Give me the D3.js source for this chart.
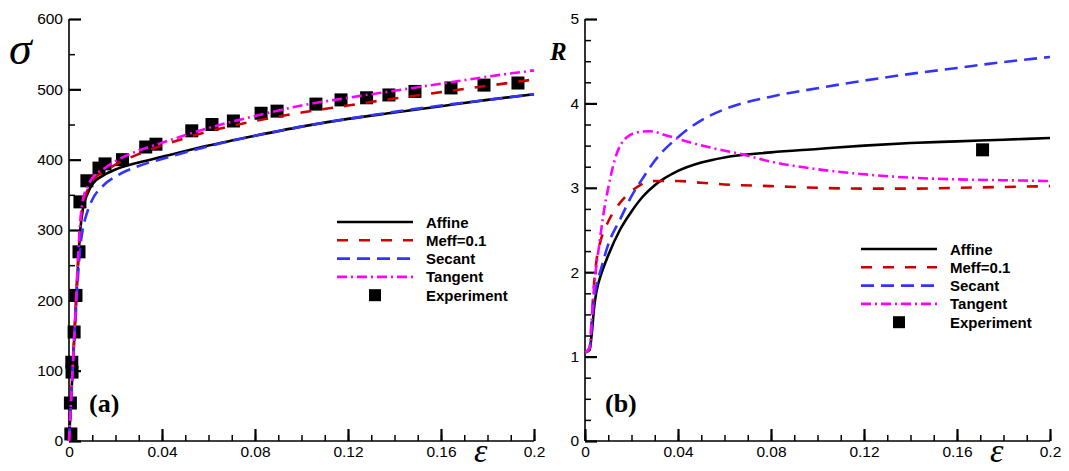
<!DOCTYPE html>
<meta charset="utf-8">
<body style="margin:0;background:#fff">
<script src="https://d3js.org/d3.v7.min.js"></script>
<script>

  // ---- data: panel (a) stress-strain ----
  let affineA_x = [0, 0.001, 0.002, 0.003, 0.004, 0.005, 0.006, 0.008, 0.01, 0.015, 0.02, 0.03, 0.04, 0.06, 0.08, 0.1, 0.12, 0.14, 0.16, 0.18, 0.2],
    affineA_y = [0, 65, 130, 195, 258, 305, 330, 352, 365, 378, 386, 396, 404, 420, 434, 447, 458, 467, 476, 485, 493];
  let meffA_x = affineA_x,
    meffA_y = [0, 65, 130, 195, 262, 312, 337, 357, 370, 383, 393, 408, 420, 440, 455, 467, 477, 487, 496, 505, 514];
  let secantA_x = affineA_x,
    secantA_y = [0, 62, 125, 185, 240, 280, 302, 327, 343, 364, 376, 391, 401, 419, 434, 447, 458, 468, 477, 485, 493];
  let tangentA_x = affineA_x,
    tangentA_y = [0, 66, 132, 198, 268, 318, 343, 362, 374, 387, 398, 413, 424, 445, 462, 477, 488, 498, 508, 518, 527];
  let expA_x = [0.0008, 0.0006, 0.0013, 0.0012, 0.0022, 0.003, 0.0043, 0.0047, 0.0077, 0.0129, 0.0155, 0.023, 0.033, 0.0374, 0.0528, 0.0615, 0.0707, 0.0826, 0.0895, 0.1062, 0.117, 0.128, 0.1376, 0.1488, 0.1643, 0.1785, 0.1931],
    expA_y = [10, 54, 98, 112, 155, 207, 269, 340, 370, 388, 394, 400, 418, 422, 441, 450, 455, 466, 469, 479, 485, 488, 492, 497, 502, 506, 509];

  // ---- data: panel (b) R vs strain ----
  let affineB_x = [0, 0.002, 0.003, 0.004, 0.005, 0.007, 0.01, 0.015, 0.02, 0.025, 0.03, 0.04, 0.05, 0.06, 0.08, 0.1, 0.12, 0.14, 0.16, 0.18, 0.2],
    affineB_y = [1.05, 1.08, 1.3, 1.6, 1.78, 1.98, 2.2, 2.5, 2.72, 2.9, 3.03, 3.2, 3.3, 3.36, 3.42, 3.46, 3.5, 3.53, 3.55, 3.57, 3.59];
  let meffB_x = affineB_x,
    meffB_y = [1.05, 1.1, 1.5, 1.9, 2.15, 2.4, 2.6, 2.82, 2.96, 3.05, 3.08, 3.08, 3.06, 3.04, 3.02, 3.0, 2.99, 2.99, 3.0, 3.01, 3.02];
  let secantB_x = affineB_x,
    secantB_y = [1.05, 1.1, 1.4, 1.7, 1.85, 2.05, 2.33, 2.62, 2.9, 3.12, 3.32, 3.6, 3.8, 3.93, 4.08, 4.18, 4.27, 4.35, 4.42, 4.49, 4.55];
  let tangentB_x = [0, 0.002, 0.003, 0.004, 0.005, 0.006, 0.008, 0.01, 0.013, 0.018, 0.023, 0.028, 0.035, 0.045, 0.055, 0.067, 0.08, 0.1, 0.12, 0.14, 0.16, 0.18, 0.2],
    tangentB_y = [1.05, 1.1, 1.5, 1.85, 2.1, 2.3, 2.7, 3.0, 3.35, 3.6, 3.66, 3.67, 3.62, 3.54, 3.47, 3.4, 3.31, 3.22, 3.16, 3.12, 3.1, 3.09, 3.08];
  let expB_x = [0.171],
    expB_y = [3.45];

  let legendNames = ["Affine", "Meff=0.1", "Secant", "Tangent", "Experiment"];
  let seriesColors = ["#000000", "#cc0000", "#3333ff", "#ff00ff"];
  let seriesDash = [null, "11,11", "13,7", "10,4,2,4"];

  let xTicks = [0, 0.04, 0.08, 0.12, 0.16, 0.2];

  let W = 1069, H = 471;
  let svg = d3.select("body").append("svg")
    .attr("width", W)
    .attr("height", H)
    .style("display", "block");

  function panel(opt) {
    let x = d3.scaleLinear().domain([0, 0.2]).range([opt.left, opt.left + 465]);
    let y = d3.scaleLinear().domain(opt.yDomain).range([441, 19]);
    let g = svg.append("g");

    // minor ticks
    g.append("g")
      .attr("transform", "translate(" + opt.left + ",0)")
      .call(d3.axisLeft(y).tickValues(opt.yMinor).tickSize(-6).tickFormat(""))
      .call(a => a.select(".domain").remove())
      .selectAll("line").attr("stroke-width", 1.5);
    g.append("g")
      .attr("transform", "translate(0,441)")
      .call(d3.axisBottom(x).tickValues(d3.range(0, 0.2001, 0.01)).tickSize(-6).tickFormat(""))
      .call(a => a.select(".domain").remove())
      .selectAll("line").attr("stroke-width", 1.5);

    // major ticks + labels
    let ya = g.append("g")
      .attr("transform", "translate(" + opt.left + ",0)")
      .call(d3.axisLeft(y).tickValues(opt.yTicks).tickSize(-12).tickPadding(6).tickFormat(d3.format("d")));
    ya.select(".domain").remove();
    ya.selectAll("line").attr("stroke-width", 2.2);
    ya.selectAll("text").style("font", "15.5px 'Liberation Sans', Arial, sans-serif").attr("fill", "#000");

    let xa = g.append("g")
      .attr("transform", "translate(0,441)")
      .call(d3.axisBottom(x).tickValues(xTicks).tickSize(-12).tickPadding(5)
        .tickFormat(d => d === 0 ? "0" : d === 0.2 ? "0.2" : d3.format(".2f")(d)));
    xa.select(".domain").remove();
    xa.selectAll("line").attr("stroke-width", 2.2);
    xa.selectAll("text").style("font", "15.5px 'Liberation Sans', Arial, sans-serif").attr("fill", "#000");

    // axis lines
    g.append("line").attr("x1", opt.left).attr("x2", opt.left).attr("y1", 19).attr("y2", 441)
      .attr("stroke", "#000").attr("stroke-width", 1.6);
    g.append("line").attr("x1", opt.left).attr("x2", opt.left + 465).attr("y1", 441).attr("y2", 441)
      .attr("stroke", "#000").attr("stroke-width", 1.6);

    // experiment markers
    g.selectAll("rect.exp")
      .data(d3.zip(opt.exp[0], opt.exp[1]))
      .enter().append("rect")
      .attr("x", d => x(d[0]) - 6.5)
      .attr("y", d => y(d[1]) - 6.5)
      .attr("width", 13).attr("height", 13)
      .attr("fill", "#000");

    let line = d3.line().x(d => x(d[0])).y(d => y(d[1])).curve(d3.curveMonotoneX);
    opt.series.forEach(function(s, i) {
      g.append("path")
        .attr("d", line(d3.zip(s[0], s[1])))
        .attr("fill", "none")
        .attr("stroke", seriesColors[i])
        .attr("stroke-width", 2.6)
        .attr("stroke-dasharray", seriesDash[i]);
    });

    // legend
    let lg = g.append("g");
    legendNames.forEach(function(name, i) {
      let yy = opt.legend[1] + i * 18.3;
      if (i < 4) {
        lg.append("line")
          .attr("x1", opt.legend[0]).attr("x2", opt.legend[0] + 76)
          .attr("y1", yy).attr("y2", yy)
          .attr("stroke", seriesColors[i])
          .attr("stroke-width", 2.6)
          .attr("stroke-dasharray", seriesDash[i]);
      } else {
        lg.append("rect")
          .attr("x", opt.legend[0] + 38 - 6).attr("y", yy - 6)
          .attr("width", 12).attr("height", 12)
          .attr("fill", "#000");
      }
      lg.append("text")
        .attr("x", opt.legend[0] + 89)
        .attr("y", yy + 5.5)
        .style("font", "bold 15px 'Liberation Sans', Arial, sans-serif")
        .text(name);
    });

    // panel label
    g.append("text")
      .attr("x", opt.left + 20).attr("y", 412)
      .style("font", "bold 26px 'Liberation Serif', 'Times New Roman', serif")
      .text(opt.tag);

    // x title
    g.append("text")
      .attr("x", opt.left + 405).attr("y", 462)
      .style("font", "italic 34px 'Liberation Serif', 'Times New Roman', serif")
      .text("\u03b5");

    return g;
  }

  let ga = panel({
    left: 69,
    yDomain: [0, 600],
    yTicks: [0, 100, 200, 300, 400, 500, 600],
    yMinor: d3.range(50, 600, 100),
    exp: [expA_x, expA_y],
    series: [[affineA_x, affineA_y], [meffA_x, meffA_y], [secantA_x, secantA_y], [tangentA_x, tangentA_y]],
    legend: [337, 222],
    tag: "(a)"
  });
  ga.append("text")
    .attr("x", 9).attr("y", 64)
    .style("font", "italic 46px 'Liberation Serif', 'Times New Roman', serif")
    .text("\u03c3");

  let gb = panel({
    left: 585,
    yDomain: [0, 5],
    yTicks: [0, 1, 2, 3, 4, 5],
    yMinor: d3.range(0.25, 5, 0.25).filter(v => Math.abs(v - Math.round(v)) > 0.01),
    exp: [expB_x, expB_y],
    series: [[affineB_x, affineB_y], [meffB_x, meffB_y], [secantB_x, secantB_y], [tangentB_x, tangentB_y]],
    legend: [861, 249],
    tag: "(b)"
  });
  gb.append("text")
    .attr("x", 550).attr("y", 60)
    .style("font", "bold italic 25px 'Liberation Serif', 'Times New Roman', serif")
    .text("R");

</script>
